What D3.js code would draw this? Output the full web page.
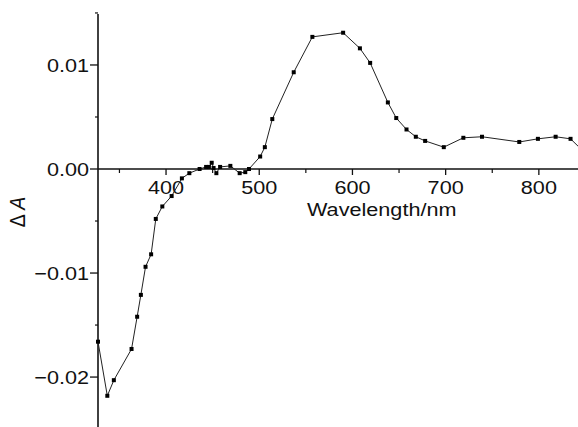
<!DOCTYPE html>
<html>
<head>
<meta charset="utf-8">
<script src="https://cdn.jsdelivr.net/npm/d3@7"></script>
<style>
  html, body { margin: 0; padding: 0; background: #fff; }
  svg { display: block; }
  text { font-family: "Liberation Sans", Arial, Helvetica, sans-serif; fill: #111; }
</style>
</head>
<body>
<svg id="chart" width="578" height="427"></svg>
<script>
// ---- data ----
const wavelengths = [327, 337, 344, 363, 369, 373, 378, 384, 389, 396,
  406, 417, 425, 436, 443, 446, 449, 451, 454, 458, 469, 479, 485, 489,
  501, 506, 514, 537, 557, 590, 608, 619, 638, 647, 658, 668, 678, 698,
  719, 739, 779, 799, 818, 834, 850];
const deltaA = [-0.0166, -0.0218, -0.0203, -0.0173, -0.0142, -0.0121, -0.0094, -0.0082, -0.0048, -0.0036,
  -0.0026, -0.0009, -0.0004, 0.0000, 0.0002, 0.0002, 0.0006, 0.0001, -0.0004, 0.0002, 0.0003, -0.0004, -0.0003, 0.0000,
  0.0012, 0.0021, 0.0048, 0.0093, 0.0127, 0.0131, 0.0116, 0.0102, 0.0064, 0.0049, 0.0038, 0.0031, 0.0027, 0.0021,
  0.0030, 0.0031, 0.0026, 0.0029, 0.0031, 0.0029, 0.0015];
const xMajorTicks = [400, 500, 600, 700, 800];
const xMinorTicks = [350, 450, 550, 650, 750, 850];
const yMajorTicks = [-0.02, -0.01, 0.00, 0.01];
const yMinorTicks = [-0.015, -0.005, 0.005, 0.015];
const yTickLabels = ["\u22120.02", "\u22120.01", "0.00", "0.01"];
const xLabel = "Wavelength/nm";

const svg = d3.select("#chart");
const FS = 18.5, SX = 1.17;

const x = d3.scaleLinear().domain([327, 842]).range([98, 578]);
const y = d3.scaleLinear().domain([0.0149, -0.0248]).range([14, 427]);
const y0 = y(0);

// axes lines
const g = svg.append("g").attr("stroke", "#111").attr("fill", "none");
g.append("line").attr("x1", x.range()[0]).attr("x2", x.range()[1])
  .attr("y1", y0).attr("y2", y0).attr("stroke-width", 1.6);
g.append("line").attr("x1", 98).attr("x2", 98)
  .attr("y1", y.range()[0]).attr("y2", y.range()[1]).attr("stroke-width", 1.6);

// x ticks
xMajorTicks.forEach(v => {
  g.append("line").attr("x1", x(v)).attr("x2", x(v)).attr("y1", y0).attr("y2", y0 + 6).attr("stroke-width", 1.3);
});
xMinorTicks.forEach(v => {
  g.append("line").attr("x1", x(v)).attr("x2", x(v)).attr("y1", y0).attr("y2", y0 + 4).attr("stroke-width", 1.2);
});
// y ticks
yMajorTicks.forEach(v => {
  g.append("line").attr("x1", 90).attr("x2", 98).attr("y1", y(v)).attr("y2", y(v)).attr("stroke-width", 1.3);
});
yMinorTicks.forEach(v => {
  g.append("line").attr("x1", 95).attr("x2", 98).attr("y1", y(v)).attr("y2", y(v)).attr("stroke-width", 1.2);
});

// tick labels
xMajorTicks.forEach(v => {
  svg.append("g").attr("transform", `translate(${x(v)},194) scale(${SX},1)`)
    .append("text").attr("text-anchor", "middle").attr("font-size", FS).text(String(v));
});
yMajorTicks.forEach((v, i) => {
  svg.append("g").attr("transform", `translate(89,${y(v)}) scale(${SX},1)`)
    .append("text").attr("text-anchor", "end").attr("dy", "0.36em").attr("font-size", FS).text(yTickLabels[i]);
});

// axis titles
svg.append("g").attr("transform", `translate(307,216) scale(${SX},1)`)
  .append("text").attr("font-size", FS).text(xLabel);
const yt = svg.append("g").attr("transform", `translate(25,212) scale(${SX},1) rotate(-90)`)
  .append("text").attr("text-anchor", "middle").attr("font-size", FS + 1);
yt.append("tspan").text("\u0394 ");
yt.append("tspan").attr("font-style", "italic").text("A");

// data line and markers
const pts = wavelengths.map((w, i) => [w, deltaA[i]]);
svg.append("path").datum(pts)
  .attr("fill", "none").attr("stroke", "#222").attr("stroke-width", 1)
  .attr("d", d3.line().x(d => x(d[0])).y(d => y(d[1])));
svg.selectAll("rect.pt").data(pts).enter().append("rect")
  .attr("class", "pt")
  .attr("x", d => x(d[0]) - 2).attr("y", d => y(d[1]) - 2)
  .attr("width", 4).attr("height", 4).attr("fill", "#000");
</script>
</body>
</html>
